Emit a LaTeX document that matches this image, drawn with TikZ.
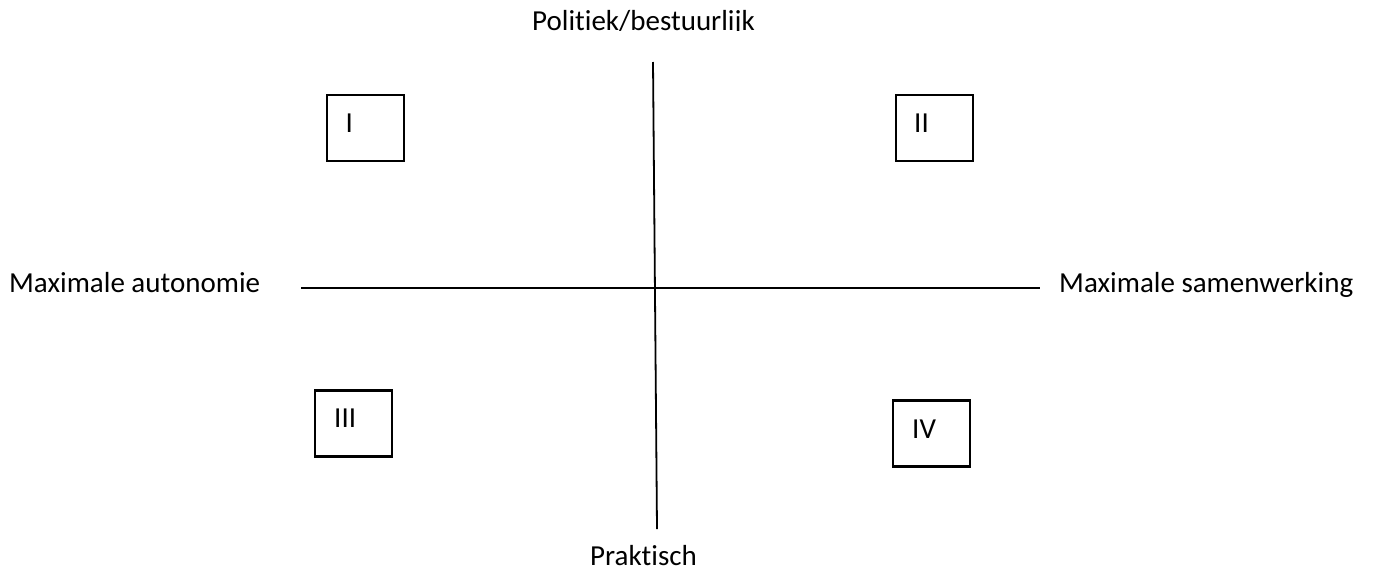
\documentclass[tikz,border=0pt]{standalone}
\usepackage{fontspec}
\setmainfont{Carlito}[Ligatures=CommonOff]
\begin{document}
\begin{tikzpicture}[x=1pt,y=-1pt,
  lbl/.style={inner sep=0pt,anchor=base west,font=\fontsize{29}{35}\selectfont},
  quad/.style={draw,line width=2.4pt,minimum width=77pt,minimum height=66pt,inner sep=0pt},
  axis/.style={line width=1.8pt}]
\useasboundingbox (0,0) rectangle (1375,571);
\fill[white] (0,0) rectangle (1375,571);
% axes
\coordinate (vtop) at (653,62);
\coordinate (vbot) at (657,529);
\coordinate (hl) at (301,288);
\coordinate (hr) at (1040,288);
\draw[axis] (vtop) -- (vbot);
\draw[axis] (hl) -- (hr);
% axis labels
\node[lbl] (left) at (9,292) {Maximale autonomie};
\node[lbl] (right) at (1059,292) {Maximale samenwerking};
\begin{scope}
\clip (0,0) rectangle (1375,30);
\node[lbl] (topl) at (532,30) {Politiek/bestuurlijk};
\end{scope}
\node[lbl] (botl) at (590,565) {Praktisch};
% quadrant boxes
\node[quad] (q1) at (365.5,128) {};
\node[quad] (q2) at (934.5,128) {};
\node[quad] (q3) at (353.5,423.5) {};
\node[quad] (q4) at (931.5,433.5) {};
\node[lbl] (t1) at (345.5,132) {I};
\node[lbl] (t2) at (914,132) {II};
\node[lbl] (t3) at (334,427) {III};
\node[lbl] (t4) at (912,438) {IV};
\end{tikzpicture}
\end{document}
